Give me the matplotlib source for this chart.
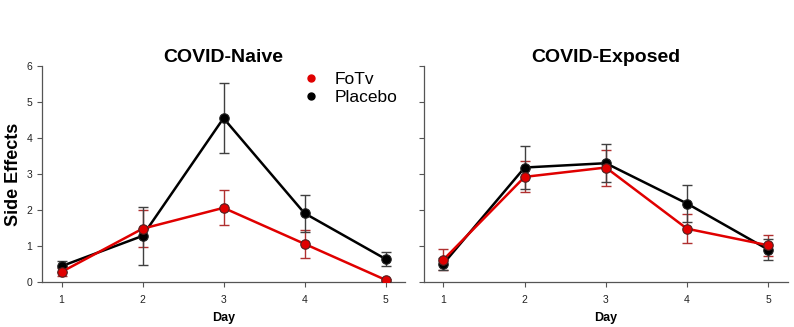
import matplotlib
matplotlib.use("Agg")
import matplotlib.pyplot as plt
from matplotlib.lines import Line2D

plt.rcParams['font.family'] = ['Liberation Sans', 'DejaVu Sans']

days = [1, 2, 3, 4, 5]
day_labels = ["1", "2", "3", "4", "5"]

naive_fotv = [0.28, 1.48, 2.06, 1.06, 0.06]
naive_fotv_err = [0.10, 0.52, 0.49, 0.39, 0.03]
naive_placebo = [0.44, 1.28, 4.55, 1.91, 0.64]
naive_placebo_err = [0.15, 0.81, 0.97, 0.51, 0.20]

exposed_fotv = [0.62, 2.92, 3.18, 1.48, 1.02]
exposed_fotv_err = [0.30, 0.43, 0.50, 0.40, 0.29]
exposed_placebo = [0.51, 3.18, 3.30, 2.18, 0.90]
exposed_placebo_err = [0.17, 0.59, 0.52, 0.51, 0.30]

titles = ["COVID-Naive", "COVID-Exposed"]
series_names = ["FoTv", "Placebo"]

fig = plt.figure(figsize=(7.94, 3.27), dpi=100)
ax1 = fig.add_axes([0.053, 0.1376, 0.457, 0.6606])
ax2 = fig.add_axes([0.534, 0.1376, 0.458, 0.6606])

red = "#e00000"
red_err = "#b03030"
blk = "#000000"
blk_err = "#404040"

def draw(ax, f, fe, p, pe, title, show_ylabels):
    ax.errorbar(days, f, yerr=fe, fmt='none', ecolor=red_err, elinewidth=1.0,
                capsize=3.5, capthick=1.0, zorder=2)
    ax.errorbar(days, p, yerr=pe, fmt='none', ecolor=blk_err, elinewidth=1.0,
                capsize=3.5, capthick=1.0, zorder=2)
    ax.plot(days, p, color=blk, lw=1.8, marker='o', ms=6.8, mfc=blk,
            mec="#202020", mew=0.8, zorder=3, label=series_names[1])
    ax.plot(days, f, color=red, lw=1.8, marker='o', ms=6.8, mfc=red,
            mec="#502020", mew=0.8, zorder=4, label=series_names[0])
    ax.set_xlim(0.76, 5.24)
    ax.set_ylim(0, 6)
    ax.set_xticks(days)
    ax.set_xticklabels(day_labels)
    ax.set_yticks([0, 1, 2, 3, 4, 5, 6])
    if not show_ylabels:
        ax.set_yticklabels([])
    for s in ["top", "right"]:
        ax.spines[s].set_visible(False)
    for s in ["left", "bottom"]:
        ax.spines[s].set_color("#555555")
        ax.spines[s].set_linewidth(0.9)
    ax.tick_params(axis='both', labelsize=7.5, colors="#555555", labelcolor="#222222",
                   length=3.5, width=0.8, direction='out')
    ax.tick_params(axis='x', pad=6)
    ax.set_title(title, fontsize=14, fontweight='bold', pad=2)
    ax.set_xlabel("Day", fontsize=9, fontweight='bold', labelpad=5)

draw(ax1, naive_fotv, naive_fotv_err, naive_placebo, naive_placebo_err, titles[0], True)
draw(ax2, exposed_fotv, exposed_fotv_err, exposed_placebo, exposed_placebo_err, titles[1], False)
ax1.set_ylabel("Side Effects", fontsize=13, fontweight='bold')
ax1.yaxis.set_label_coords(-0.056, 0.5)

handles = [Line2D([], [], ls='none', marker='o', ms=5, mfc=red, mec=red),
           Line2D([], [], ls='none', marker='o', ms=5, mfc=blk, mec=blk)]
ax1.legend(handles, series_names, loc='upper left', bbox_to_anchor=(0.668, 1.045),
           frameon=False, fontsize=12.5, handletextpad=0.8, labelspacing=0.15,
           handlelength=1.2)

fig.savefig("out.png", dpi=100)
